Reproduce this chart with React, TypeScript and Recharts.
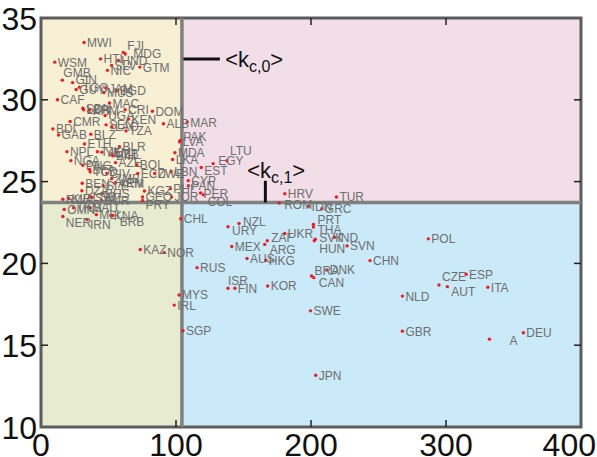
import {
  ScatterChart,
  Scatter,
  XAxis,
  YAxis,
  ReferenceArea,
  ReferenceLine,
  ReferenceDot,
  LabelList,
} from "recharts";

// country codes and their (x, y) values
const names = [
  "MWI", "FJI", "MDG", "HTI", "HND", "SLV", "GTM", "NIC", "WSM", "GMB",
  "GIN", "TGO", "GUY", "JAM", "BGD", "MUS", "CAF", "SDN", "LBR", "KHM",
  "UGA", "MAC", "CRI", "KEN", "CMR", "SEN", "LAO", "TZA", "BDI", "GAB",
  "BLZ", "ETH", "BLR", "NPL", "TJK", "YEM", "UZB", "BIH", "NGA", "PNG",
  "AZE", "BOL", "BFA", "TCD", "CIV", "ECU", "ZWE", "ZMB", "VEN", "BEN",
  "SLE", "ARM", "DZA", "BHS", "KGZ", "GEO", "PRY", "JOR", "PHL", "RWA",
  "KIR", "LSO", "SWZ", "SUR", "OMN", "TKM", "NER", "IRN", "SAU", "MLI",
  "KNA", "BRB", "DOM", "ALB", "MAR", "PAK", "LVA", "MDA", "LKA", "LTU",
  "EGY", "EST", "LBN", "CYP", "PAN", "PER", "COL", "HRV", "ROM", "IDN",
  "GRC", "TUR", "CHL", "NZL", "URY", "PRT", "THA", "UKR", "ZAF", "SVK",
  "HUN", "IND", "SVN", "ARG", "MEX", "AUS", "HKG", "CHN", "RUS", "POL",
  "BRA", "CAN", "DNK", "ISR", "FIN", "KOR", "MYS", "IRL", "SGP", "SWE",
  "JPN", "NLD", "GBR", "CZE", "AUT", "ESP", "ITA", "A", "DEU", "KAZ",
  "NOR",
];
const xValues = [
  31.9, 61, 62.4, 44.1, 57.3, 52.3, 73.2, 49.2, 10.2, 15.8,
  23.4, 28.5, 26.1, 48, 56.2, 46.6, 12.2, 31, 31.5, 35.9,
  47.5, 50.7, 62.3, 64.8, 21.6, 48.2, 52.5, 63, 8.8, 13,
  36.9, 32.2, 58.1, 19.2, 41.8, 45.1, 52.5, 53.2, 22.1, 31,
  55.2, 71, 35.9, 36.4, 48.8, 71.7, 84.2, 52.3, 55, 30.5,
  46, 54.6, 30.3, 45.1, 76.6, 75.2, 75.2, 96.7, 95.8, 16.2,
  20.4, 35.9, 37.7, 44.6, 17.2, 24.1, 16.2, 34, 36.4, 41,
  51.7, 53.1, 82.5, 90.7, 108.3, 103.2, 102.6, 99.2, 97.5, 137.7,
  127.5, 118.7, 96.4, 109.1, 109.1, 118.2, 120.4, 180.6, 176.4, 198.2,
  208, 218.8, 103.5, 146.7, 138.5, 201.8, 201.8, 180.6, 167.6, 203.2,
  202.4, 217.4, 226.7, 165.7, 141.3, 152.6, 166.5, 243.7, 115.6, 286.9,
  200.4, 202.1, 211.7, 138.5, 143.6, 167.9, 102.3, 98.7, 105.2, 199.6,
  203.5, 267.7, 267.7, 294.8, 301, 314.9, 331, 332.2, 357.3, 73.5,
  91.3,
];
const yValues = [
  33.5, 32.9, 32.8, 32.5, 32.4, 32.1, 32.0, 31.8, 32.3, 31.2,
  31.05, 30.77, 30.63, 30.72, 30.55, 30.45, 30.0, 29.49, 29.39, 29.37,
  29.04, 29.8, 29.39, 28.82, 28.67, 28.47, 28.36, 28.1, 28.22, 27.85,
  27.9, 27.3, 27.14, 26.83, 26.83, 26.8, 26.7, 26.57, 26.28, 26.0,
  26.16, 26.02, 25.75, 25.6, 25.5, 25.5, 25.5, 25.18, 24.93, 24.9,
  24.75, 24.9, 24.44, 24.28, 24.43, 24.06, 23.85, 24.06, 24.57, 23.92,
  23.98, 24.07, 24.04, 23.87, 23.3, 23.4, 22.87, 22.69, 23.4, 22.98,
  22.93, 22.93, 29.3, 28.54, 28.64, 27.52, 27.43, 26.76, 26.35, 26.27,
  26.1, 25.86, 25.6, 25.06, 24.75, 24.3, 24.2, 24.26, 23.69, 23.5,
  23.34, 24.06, 22.73, 22.44, 22.24, 22.38, 22.22, 21.83, 21.38, 21.48,
  21.38, 21.6, 21.07, 21.16, 21.03, 20.3, 20.19, 20.17, 19.74, 21.5,
  19.23, 19.13, 19.6, 18.48, 18.48, 18.62, 18.07, 17.45, 15.88, 17.1,
  13.16, 18.0, 15.86, 18.68, 18.58, 19.34, 18.54, 15.37, 15.76, 20.85,
  20.66,
];

const xTicks = [0, 100, 200, 300, 400];
const yTicks = [10, 15, 20, 25, 30, 35];

// thresholds splitting the plane
const kx = 104.4;
const ky = 23.73;

const data = names.map((name, i) => ({ name, x: xValues[i], y: yValues[i] }));

// label nudges (px) where the original moved a label off the usual spot
const labelNudge: Record<string, [number, number]> = {
  ISR: [-3, -8],
  BRA: [0, -5],
  CAN: [2, 5],
  CZE: [0, -8],
  AUT: [1, 5],
  URY: [1, 4],
  NZL: [1, -2],
  ARG: [2, 5],
  ZAF: [1, -3],
  HUN: [2, 8],
  SVK: [1, -2],
  PRT: [1, -5],
  THA: [1, 2],
  ROM: [2, 1],
  COL: [1, 7],
  LTU: [0, -10],
  EGY: [2, -3],
  EST: [0, 3],
  PAK: [0, -4],
  PRY: [0, 4],
  GMB: [-2, -8],
  GIN: [0, -3],
  FJI: [1, -7],
  MDG: [5, 0],
  NER: [0, 6],
  IRN: [0, 5],
  BRB: [4, 6],
  A: [17, 1],
};

const W = 597;
const H = 457;
const PLOT_TOP = 18;
const PLOT_BOTTOM = 427;
const PLOT_LEFT = 41;
const PLOT_RIGHT = 581;
const TICK_LEN = 7;
const FONT = "'Liberation Sans', Arial, Helvetica, sans-serif";

const XTick = (props: any) => {
  const { x, payload } = props;
  const v = payload.value;
  let anchor = "middle";
  let tx = x;
  if (v === 400) {
    anchor = "end";
    tx = W - 1;
  }
  return (
    <g>
      {v !== 0 && v !== 400 && (
        <>
          <line x1={x} x2={x} y1={PLOT_BOTTOM} y2={PLOT_BOTTOM - TICK_LEN} stroke="#222" strokeWidth={1.5} />
          <line x1={x} x2={x} y1={PLOT_TOP} y2={PLOT_TOP + TICK_LEN} stroke="#222" strokeWidth={1.5} />
        </>
      )}
      <text x={tx} y={H - 1} textAnchor={anchor} fontSize={32} fontFamily={FONT} fill="#111">
        {v}
      </text>
    </g>
  );
};

const YTick = (props: any) => {
  const { y, payload } = props;
  const v = payload.value;
  return (
    <g>
      {v !== 10 && v !== 35 && (
        <>
          <line x1={PLOT_LEFT} x2={PLOT_LEFT + TICK_LEN} y1={y} y2={y} stroke="#222" strokeWidth={1.5} />
          <line x1={PLOT_RIGHT} x2={PLOT_RIGHT - TICK_LEN} y1={y} y2={y} stroke="#222" strokeWidth={1.5} />
        </>
      )}
      <text x={37} y={y} dy={11.5} textAnchor="end" fontSize={32} fontFamily={FONT} fill="#111">
        {v}
      </text>
    </g>
  );
};

const Dot = (props: any) => <circle cx={props.cx} cy={props.cy} r={1.7} fill="#ec1c24" />;

const PointLabel = (props: any) => {
  const { x, y, width, height, value } = props;
  const cx = x + (width || 0) / 2;
  const cy = y + (height || 0) / 2;
  const [nx, ny] = labelNudge[value] || [0, 0];
  return (
    <text x={cx + 3 + nx} y={cy + ny} dy={4.5} fontSize={12} fontFamily={FONT} fill="#6e6e6e">
      {value}
    </text>
  );
};

const kLabel = (sub: string) => (props: any) => (
  <text x={props.cx} y={props.cy} dy={7} fontSize={22} fontFamily={FONT} fill="#111">
    {"<k"}
    <tspan fontSize={16} dy={5}>
      {sub}
    </tspan>
    <tspan fontSize={22} dy={-5}>
      {">"}
    </tspan>
  </text>
);

export default function App() {
  return (
    <div style={{ position: "absolute", left: 0, top: 0, width: W, height: H, background: "#fff" }}>
      <ScatterChart width={W} height={H} margin={{ top: PLOT_TOP, right: W - PLOT_RIGHT, bottom: 0, left: 0 }}>
        <XAxis
          type="number"
          dataKey="x"
          domain={[0, 400]}
          ticks={xTicks}
          height={H - PLOT_BOTTOM}
          axisLine={false}
          tickLine={false}
          tick={<XTick />}
          interval={0}
        />
        <YAxis
          type="number"
          dataKey="y"
          domain={[10, 35]}
          ticks={yTicks}
          width={PLOT_LEFT}
          axisLine={false}
          tickLine={false}
          tick={<YTick />}
          interval={0}
        />
        <ReferenceArea x1={0} x2={kx} y1={ky} y2={35} fill="#f8f0d4" fillOpacity={1} stroke="none" />
        <ReferenceArea x1={kx} x2={400} y1={ky} y2={35} fill="#f2dee7" fillOpacity={1} stroke="none" />
        <ReferenceArea x1={0} x2={kx} y1={10} y2={ky} fill="#e7ebd0" fillOpacity={1} stroke="none" />
        <ReferenceArea x1={kx} x2={400} y1={10} y2={ky} fill="#cbeaf9" fillOpacity={1} stroke="none" />
        <ReferenceLine x={kx} stroke="#808080" strokeWidth={3.5} />
        <ReferenceLine y={ky} stroke="#808080" strokeWidth={3.5} />
        <ReferenceLine
          segment={[
            { x: 105.5, y: 32.5 },
            { x: 132.5, y: 32.5 },
          ]}
          stroke="#111"
          strokeWidth={3}
        />
        <ReferenceLine
          segment={[
            { x: 166.2, y: ky },
            { x: 166.2, y: 25.05 },
          ]}
          stroke="#111"
          strokeWidth={3}
        />
        <ReferenceDot x={136.4} y={32.45} r={0} shape={kLabel("c,0")} />
        <ReferenceDot x={152.7} y={25.67} r={0} shape={kLabel("c,1")} />
        <ReferenceArea x1={0} x2={400} y1={10} y2={35} fill="none" stroke="#5c5c5c" strokeWidth={3} />
        <Scatter data={data} shape={<Dot />} isAnimationActive={false}>
          <LabelList dataKey="name" content={<PointLabel />} />
        </Scatter>
      </ScatterChart>
    </div>
  );
}
